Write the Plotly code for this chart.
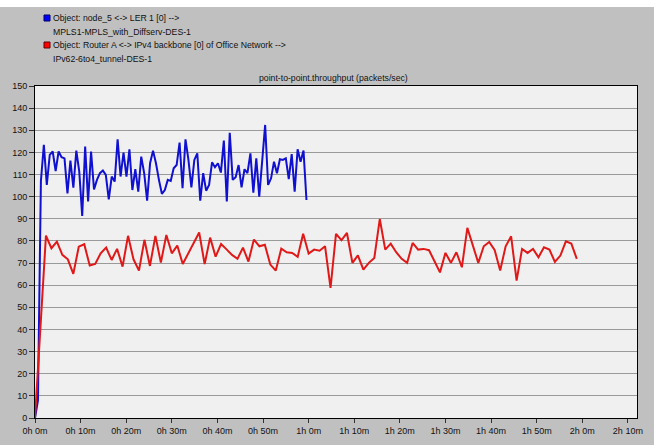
import plotly.graph_objects as go

# ---------------- data ----------------
blue_name = ["Object: node_5 <-> LER 1 [0] -->", "MPLS1-MPLS_with_Diffserv-DES-1"]
red_name = ["Object: Router A <-> IPv4 backbone [0] of Office Network -->", "IPv62-6to4_tunnel-DES-1"]
chart_title = "point-to-point.throughput (packets/sec)"

# throughput samples (packets/sec)
blue_vals = [0, 8, 107, 123.4, 105.3, 118.9, 120.4, 111.6, 120.4, 117.8, 117.3, 101.5, 116.3,
             104.1, 120.8, 111.3, 91.3, 122.6, 97.8, 120.4, 103.3, 107.6, 110.6,
             111.8, 109.8, 98.8, 109.1, 106.8, 125.9, 109.1, 119.9,
             109.1, 121.4, 103.0, 112.4, 102.3, 118.1, 110.6, 98.2, 115.1, 120.8,
             115.1, 107.6, 101.3, 103.0, 107.6, 107.1, 112.8, 114.3, 124.4, 103.8,
             125.9, 116.6, 104.2, 116.6, 119.6, 98.2, 110.6, 102.7, 105.3, 115.5,
             113.3, 115.1, 110.9, 125.3,
             97.8, 128.9, 107.6, 108.8, 114.3, 104.2, 112.4, 110.6, 119.6, 101.8,
             117.3, 100.0, 117.3, 132.4, 105.3, 108.3, 115.8, 110.6, 116.9, 116.6,
             117.3, 107.9, 119.2, 102.3, 121.4, 115.8, 120.8, 98.5]
red_vals = [0, 42, 82.4, 76.7, 79.7, 73.7, 71.7, 65.1, 77.4, 78.5, 68.9, 69.6, 74.4,
            77.0, 71.4, 76.4, 68.4, 82.3, 71.7, 66.6, 80.5, 68.7, 82.3,
            70.2, 82.7, 74.4, 77.9, 69.6, 74.5, 79.0, 83.8, 69.5, 81.5,
            72.9, 78.6, 76.2, 73.7, 71.9, 77.0, 70.7,
            80.6, 77.6, 78.3, 69.3, 66.6, 76.5, 74.9, 74.6, 72.8, 83.2,
            74.3, 76.1, 75.6, 77.6, 58.8, 83.2, 80.3, 83.6, 70.1, 73.5,
            67.0, 70.1, 72.3, 89.9, 76.1, 78.8, 74.9, 71.9, 70.1, 79.1,
            76.1, 76.4, 75.8, 70.8, 65.8,
            74.6, 70.1, 74.9, 68.1, 85.9, 78.3, 70.1, 77.6, 79.5, 75.8,
            66.6, 77.6, 82.1, 62.1, 76.4, 74.6, 76.4, 72.6, 77.1, 76.1,
            70.5, 73.4, 79.8, 78.8, 71.9]

# sample intervals (minutes)
blue_step_min = 0.647
red_step_min = 1.2
blue_t = [i * blue_step_min for i in range(len(blue_vals))]
red_t = [i * red_step_min for i in range(len(red_vals))]

x_tick_vals = [0, 10, 20, 30, 40, 50, 60, 70, 80, 90, 100, 110, 120, 130]
x_tick_text = ["0h 0m", "0h 10m", "0h 20m", "0h 30m", "0h 40m", "0h 50m", "1h 0m",
               "1h 10m", "1h 20m", "1h 30m", "1h 40m", "1h 50m", "2h 0m", "2h 10m"]
y_tick_vals = [0, 10, 20, 30, 40, 50, 60, 70, 80, 90, 100, 110, 120, 130, 140, 150]

# ---------------- style ----------------
W, H = 654, 445
L, R, T, B = 35, 17, 86, 27
BLUE = "#1010d0"
RED = "#e01818"
GRAY_BG = "#c0c0c0"
PLOT_BG = "#f0f0f0"
FONT = "Liberation Sans, Arial, sans-serif"


def px(xp):
    return (xp - L) / (W - L - R)


def py(yp):
    return (H - B - yp) / (H - T - B)


fig = go.Figure()
fig.add_trace(go.Scatter(x=blue_t, y=blue_vals, mode="lines",
                         line=dict(color=BLUE, width=2), showlegend=False,
                         name=" ".join(blue_name)))
fig.add_trace(go.Scatter(x=red_t, y=red_vals, mode="lines",
                         line=dict(color=RED, width=2), showlegend=False,
                         name=" ".join(red_name)))

shapes = [
    # white strip at the top of the screenshot
    dict(type="rect", xref="paper", yref="paper", x0=px(0), x1=px(W), y0=py(7), y1=py(0),
         fillcolor="white", line=dict(width=0), layer="above"),
    # legend swatches
    dict(type="rect", xref="paper", yref="paper", x0=px(44), x1=px(50), y0=py(21), y1=py(15),
         fillcolor="#0000ff", line=dict(color="#000060", width=1)),
    dict(type="rect", xref="paper", yref="paper", x0=px(44), x1=px(50), y0=py(48), y1=py(42),
         fillcolor="#ff0000", line=dict(color="#600000", width=1)),
]

annotations = [
    dict(text=chart_title, xref="paper", yref="paper", x=px(333), y=py(78),
         showarrow=False, xanchor="center", yanchor="middle",
         font=dict(size=8.7, color="#111", family=FONT)),
    dict(text=blue_name[0], xref="paper", yref="paper", x=px(51), y=py(18),
         showarrow=False, xanchor="left", yanchor="middle",
         font=dict(size=8.7, color="#111", family=FONT)),
    dict(text=blue_name[1], xref="paper", yref="paper", x=px(51), y=py(32),
         showarrow=False, xanchor="left", yanchor="middle",
         font=dict(size=8.7, color="#111", family=FONT)),
    dict(text=red_name[0], xref="paper", yref="paper", x=px(51), y=py(45),
         showarrow=False, xanchor="left", yanchor="middle",
         font=dict(size=8.7, color="#111", family=FONT)),
    dict(text=red_name[1], xref="paper", yref="paper", x=px(51), y=py(59),
         showarrow=False, xanchor="left", yanchor="middle",
         font=dict(size=8.7, color="#111", family=FONT)),
]

fig.update_layout(
    width=W, height=H,
    margin=dict(l=L, r=R, t=T, b=B, autoexpand=False),
    paper_bgcolor=GRAY_BG, plot_bgcolor=PLOT_BG,
    shapes=shapes, annotations=annotations,
    font=dict(family=FONT, size=9, color="#111"),
)
fig.update_xaxes(range=[0, 132], tickvals=x_tick_vals, ticktext=x_tick_text,
                 showgrid=False, zeroline=False, showline=True, linecolor="black",
                 linewidth=1, mirror=True, ticks="outside", ticklen=4, tickcolor="#333",
                 tickfont=dict(size=9, family=FONT, color="#111"))
fig.update_yaxes(range=[0, 150], tickvals=y_tick_vals, showgrid=True, gridcolor="#9a9a9a",
                 gridwidth=1, zeroline=False, showline=True, linecolor="black",
                 linewidth=1, mirror=True, ticks="outside", ticklen=5, tickcolor="#333",
                 tickfont=dict(size=9, family=FONT, color="#111"))

fig.write_html("out.html", config={"displayModeBar": False},
               post_script="document.body.style.margin='0';document.body.style.overflow='hidden';")
